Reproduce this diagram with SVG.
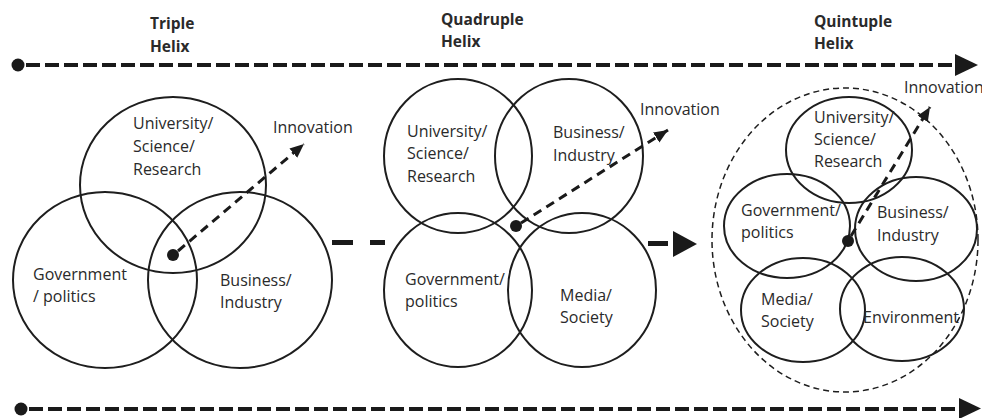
<svg xmlns="http://www.w3.org/2000/svg" width="982" height="418" viewBox="0 0 982 418">
<style>
.c{fill:none;stroke:#1e1e1e;stroke-width:2}
.t{font-family:"Open Sans","Liberation Sans",sans-serif;font-size:16px;fill:#2a2a2a}
.h{font-family:"Open Sans","Liberation Sans",sans-serif;font-size:15.5px;font-weight:bold;fill:#2a2a2a}
.big{stroke:#1a1a1a;stroke-width:4;stroke-dasharray:14 5;fill:none}
.mid{stroke:#1a1a1a;stroke-width:5;fill:none}
.inn{stroke:#1a1a1a;stroke-width:3;stroke-dasharray:9 6;fill:none}
.dot{fill:#1a1a1a}
.head{fill:#1a1a1a}
</style>
<defs>
<marker id="ah" markerUnits="userSpaceOnUse" markerWidth="16" markerHeight="14" refX="14" refY="6" orient="auto">
<path d="M0,0 L14,6 L0,12 Z" fill="#1a1a1a"/>
</marker>
</defs>
<g id="titles">
<text class="h" x="150" y="29">Triple</text>
<text class="h" x="150" y="52">Helix</text>
<text class="h" x="441" y="25">Quadruple</text>
<text class="h" x="441" y="47">Helix</text>
<text class="h" x="814" y="27">Quintuple</text>
<text class="h" x="814" y="49">Helix</text>
</g>
<g id="connectors">
<circle class="dot" cx="18" cy="65" r="6.5"/>
<line class="big" x1="26" y1="65" x2="955" y2="65"/>
<polygon class="head" points="955,54 978,65 955,76"/>
<circle class="dot" cx="21" cy="409" r="6.5"/>
<line class="big" x1="29" y1="409" x2="959" y2="409"/>
<polygon class="head" points="959,398 981,408.5 959,419"/>
<line class="mid" x1="332" y1="242.5" x2="353" y2="242.5"/>
<line class="mid" x1="370" y1="242.5" x2="385" y2="242.5"/>
<line class="mid" x1="648" y1="243.5" x2="668" y2="243.5"/>
<polygon class="head" points="673,231 697,244 673,257"/>
</g>
<g id="triple">
<g id="t-university">
<ellipse class="c" cx="173" cy="185" rx="93" ry="88"/>
<text class="t" x="133" y="129">University/</text>
<text class="t" x="133" y="152">Science/</text>
<text class="t" x="133" y="175">Research</text>
</g>
<g id="t-government">
<ellipse class="c" cx="105" cy="280" rx="92" ry="88"/>
<text class="t" x="33" y="280">Government</text>
<text class="t" x="33" y="302">/ politics</text>
</g>
<g id="t-business">
<ellipse class="c" cx="240" cy="280" rx="92" ry="88"/>
<text class="t" x="220" y="286">Business/</text>
<text class="t" x="220" y="308">Industry</text>
</g>
<g id="t-innovation">
<circle class="dot" cx="173" cy="255" r="6"/>
<line class="inn" x1="178" y1="251" x2="304" y2="144" marker-end="url(#ah)"/>
<text class="t" x="273" y="133">Innovation</text>
</g>
</g>
<g id="quadruple">
<g id="q-university">
<ellipse class="c" cx="458" cy="156" rx="74" ry="77"/>
<text class="t" x="407" y="137">University/</text>
<text class="t" x="407" y="159">Science/</text>
<text class="t" x="407" y="182">Research</text>
</g>
<g id="q-business">
<ellipse class="c" cx="569" cy="156" rx="74" ry="77"/>
<text class="t" x="553" y="138">Business/</text>
<text class="t" x="553" y="161">Industry</text>
</g>
<g id="q-government">
<ellipse class="c" cx="458" cy="290" rx="74" ry="77"/>
<text class="t" x="405" y="285">Government/</text>
<text class="t" x="405" y="307">politics</text>
</g>
<g id="q-media">
<ellipse class="c" cx="582" cy="290" rx="74" ry="77"/>
<text class="t" x="560" y="301">Media/</text>
<text class="t" x="560" y="323">Society</text>
</g>
<g id="q-innovation">
<circle class="dot" cx="516" cy="226" r="6"/>
<line class="inn" x1="521" y1="223" x2="668" y2="130" marker-end="url(#ah)"/>
<text class="t" x="640" y="115">Innovation</text>
</g>
</g>
<g id="quintuple">
<ellipse id="boundary" cx="845" cy="240" rx="133" ry="152" fill="none" stroke="#1e1e1e" stroke-width="1.5" stroke-dasharray="6 4"/>
<g id="p-university">
<ellipse class="c" cx="849" cy="150" rx="63" ry="53"/>
<text class="t" x="814" y="123">University/</text>
<text class="t" x="814" y="145">Science/</text>
<text class="t" x="814" y="167">Research</text>
</g>
<g id="p-government">
<ellipse class="c" cx="787" cy="226" rx="63" ry="52"/>
<text class="t" x="741" y="216">Government/</text>
<text class="t" x="741" y="238">politics</text>
</g>
<g id="p-business">
<ellipse class="c" cx="916" cy="229" rx="61" ry="52"/>
<text class="t" x="877" y="218">Business/</text>
<text class="t" x="877" y="241">Industry</text>
</g>
<g id="p-media">
<ellipse class="c" cx="803" cy="310" rx="62" ry="52"/>
<text class="t" x="761" y="305">Media/</text>
<text class="t" x="761" y="327">Society</text>
</g>
<g id="p-environment">
<ellipse class="c" cx="902" cy="309" rx="62" ry="52"/>
<text class="t" x="863" y="323">Environment</text>
</g>
<g id="p-innovation">
<circle class="dot" cx="848" cy="241" r="6"/>
<line class="inn" x1="851" y1="236" x2="930" y2="107" marker-end="url(#ah)"/>
<text class="t" x="904" y="93">Innovation</text>
</g>
</g>
</svg>
